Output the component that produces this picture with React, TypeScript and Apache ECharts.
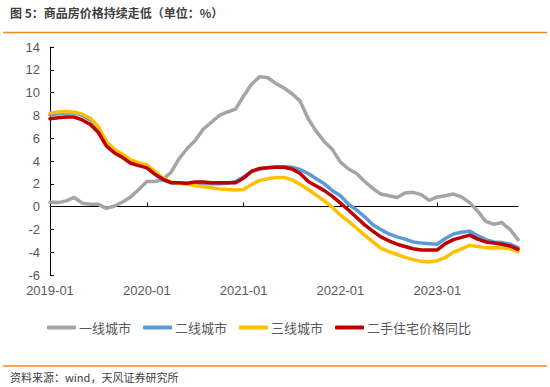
import React, { useEffect, useRef } from "react";
import * as echarts from "echarts";

const startYear = 2019;
const monthCount = 59;
const categories: string[] = [];
for (let i = 0; i < monthCount; i++) {
  const y = startYear + Math.floor(i / 12);
  const m = (i % 12) + 1;
  categories.push(`${y}-${m < 10 ? "0" + m : m}`);
}

const seriesNames = ["一线城市", "二线城市", "三线城市", "二手住宅价格同比"];

const tier1 = [
  0.4, 0.35, 0.5, 0.8, 0.3, 0.2, 0.2, -0.15, 0.05, 0.4, 0.85, 1.5,
  2.2, 2.2, 2.4, 3.0, 4.2, 5.1, 5.8, 6.8, 7.4, 8.0, 8.3, 8.55,
  9.7, 10.75, 11.4, 11.3, 10.8, 10.4, 9.9, 9.25, 7.7, 6.6, 5.7, 5.0,
  3.9, 3.3, 2.9, 2.2, 1.6, 1.1, 0.95, 0.8, 1.2, 1.25, 1.05, 0.55,
  0.85, 0.95, 1.1, 0.85, 0.35, -0.4, -1.3, -1.55, -1.4, -2.0, -2.9,
];

const tier2 = [
  8.05, 8.15, 8.2, 8.2, 8.0, 7.6, 6.8, 5.6, 4.9, 4.5, 4.0, 3.75,
  3.45, 2.85, 2.3, 2.1, 2.05, 2.0, 2.05, 2.05, 2.0, 2.0, 2.05, 2.2,
  2.6, 3.1, 3.3, 3.4, 3.5, 3.5, 3.45, 3.25, 2.9, 2.45, 2.0, 1.4,
  0.95, 0.2, -0.3, -0.9, -1.6, -2.0, -2.4, -2.65, -2.85, -3.1, -3.2, -3.25,
  -3.3, -2.8, -2.4, -2.25, -2.15, -2.55, -2.9, -3.1, -3.15, -3.3, -3.6,
];

const tier3 = [
  8.2, 8.3, 8.35, 8.3, 8.1, 7.75, 7.0, 5.7, 5.0, 4.6, 4.1, 3.85,
  3.65, 3.1, 2.5, 2.15, 2.05, 1.95, 1.85, 1.75, 1.65, 1.55, 1.5, 1.45,
  1.5, 1.95, 2.3, 2.45, 2.55, 2.55, 2.35, 1.95, 1.5, 1.0, 0.5, -0.05,
  -0.75, -1.3, -1.9, -2.5, -3.1, -3.65, -3.95, -4.2, -4.45, -4.65, -4.8, -4.85,
  -4.75, -4.45, -4.0, -3.7, -3.4, -3.5, -3.6, -3.6, -3.6, -3.7, -3.95,
];

const secondHand = [
  7.7, 7.8, 7.85, 7.85, 7.6, 7.2, 6.5, 5.3, 4.7, 4.3, 3.8, 3.6,
  3.4, 2.85, 2.4, 2.1, 2.1, 2.05, 2.15, 2.15, 2.1, 2.1, 2.1, 2.1,
  2.5, 3.1, 3.35, 3.4, 3.45, 3.45, 3.3, 2.9, 2.2, 1.8, 1.4, 0.9,
  0.3, -0.3, -0.95, -1.6, -2.15, -2.65, -3.0, -3.3, -3.5, -3.7, -3.8, -3.8,
  -3.8, -3.25, -2.9, -2.7, -2.5, -2.85, -3.1, -3.2, -3.3, -3.45, -3.75,
];

const yTicks = { min: -6, max: 14, interval: 2 };

const colors = ["#A5A5A5", "#5B9BD5", "#FFC000", "#C00000"];

const titleText = "图 5：商品房价格持续走低（单位：%）";
const sourceText = "资料来源：wind，天风证券研究所";

const CJK = "'Noto Sans CJK SC', 'Noto Sans', sans-serif";
const NUM = "'Liberation Sans', Arial, sans-serif";

export default function App() {
  const ref = useRef<HTMLDivElement>(null);
  useEffect(() => {
    if (!ref.current) return;
    const chart = echarts.init(ref.current, undefined, { renderer: "svg" });
    const dataSets = [tier1, tier2, tier3, secondHand];
    chart.setOption({
      animation: false,
      backgroundColor: "#ffffff",
      grid: { left: 50, right: 32, top: 47, bottom: 112, containLabel: false },
      legend: {
        left: 42,
        top: 316,
        icon: "roundRect",
        itemWidth: 29,
        itemHeight: 4,
        itemGap: 12,
        textStyle: { fontFamily: CJK, fontSize: 13, color: "#595959", padding: [0, 0, 0, -2] },
        data: seriesNames,
      },
      xAxis: [
        {
          type: "category",
          data: categories,
          boundaryGap: false,
          axisLine: { onZero: true, lineStyle: { color: "#000000", width: 1 } },
          axisTick: { show: true, inside: true, length: 4, interval: 11, lineStyle: { color: "#000000" } },
          axisLabel: { show: false },
          splitLine: { show: false },
        },
        {
          type: "category",
          data: categories,
          boundaryGap: false,
          position: "bottom",
          axisLine: { show: false, onZero: false },
          axisTick: { show: false },
          axisLabel: {
            show: true,
            interval: 11,
            margin: 9,
            fontFamily: NUM,
            fontSize: 13,
            color: "#595959",
          },
          splitLine: { show: false },
        },
      ],
      yAxis: {
        type: "value",
        min: yTicks.min,
        max: yTicks.max,
        interval: yTicks.interval,
        axisLine: { show: true, lineStyle: { color: "#000000", width: 1 } },
        axisTick: { show: true, inside: true, length: 4, lineStyle: { color: "#000000" } },
        axisLabel: { fontFamily: NUM, fontSize: 13, color: "#595959", margin: 10 },
        splitLine: { show: false },
      },
      series: seriesNames.map((name, i) => ({
        name,
        type: "line",
        xAxisIndex: 0,
        data: dataSets[i],
        symbol: "none",
        smooth: false,
        lineStyle: { color: colors[i], width: 3.5, cap: "round", join: "round" },
        itemStyle: { color: colors[i] },
        z: 2 + i,
      })),
      graphic: [
        {
          type: "text",
          left: 10,
          top: 6,
          style: {
            text: titleText,
            fontFamily: CJK,
            fontSize: 12,
            fontWeight: "bold",
            fill: "#404040",
          },
        },
        {
          type: "line",
          shape: { x1: 3, y1: 32.5, x2: 547, y2: 32.5 },
          style: { stroke: "#F08A24", lineWidth: 1.5 },
        },
        {
          type: "line",
          shape: { x1: 3, y1: 366, x2: 547, y2: 366 },
          style: { stroke: "#F08A24", lineWidth: 1.5 },
        },
        {
          type: "text",
          left: 10,
          top: 371,
          style: {
            text: sourceText,
            fontFamily: CJK,
            fontSize: 11,
            fill: "#404040",
          },
        },
      ],
    });
    return () => chart.dispose();
  }, []);
  return (
    <div
      ref={ref}
      style={{ position: "fixed", left: 0, top: 0, width: 550, height: 387, background: "#fff" }}
    />
  );
}
